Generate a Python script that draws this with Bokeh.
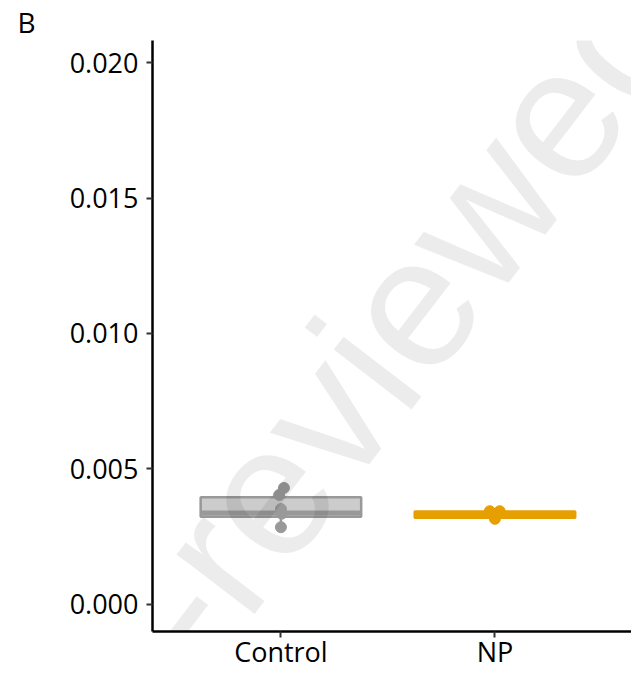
import numpy as np
from bokeh.plotting import figure
from bokeh.models import Range1d, FixedTicker, Label, NumeralTickFormatter, Title
from bokeh.embed import file_html
from bokeh.resources import INLINE

# ---- data ----
groups = ["Control", "NP"]
group_x = [1, 2]
colors = ["#999999", "#E69F00"]
box_q1 = [0.00324, 0.00320]
box_median = [0.00337, 0.003315]
box_q3 = [0.00396, 0.003426]
whisker_low = [0.00285, 0.00316]
whisker_high = [0.00430, 0.00344]

control_values = [0.00430, 0.00404, 0.00352, 0.00335, 0.00285]
control_jitter = [0.014, -0.008, 0.0, 0.004, 0.0]
np_values = [0.00344, 0.00344, 0.00331, 0.00316]
np_jitter = [-0.024, 0.022, 0.0, 0.0]

y_ticks = [0.000, 0.005, 0.010, 0.015, 0.020]
panel_tag = "B"
watermark = "peer-reviewed"

# ---- figure ----
p = figure(width=631, height=673,
           x_range=Range1d(0.4, 2.638), y_range=Range1d(-0.001, 0.020815),
           output_backend="svg", toolbar_location=None,
           min_border_left=152, min_border_top=38,
           min_border_right=0, min_border_bottom=42)
p.outline_line_color = None
p.xgrid.visible = False
p.ygrid.visible = False
p.background_fill_color = "white"
p.border_fill_color = "white"

p.add_layout(Title(text=panel_tag, align="left", offset=-135, standoff=0,
                   text_font="Open Sans", text_font_size="28px",
                   text_font_style="normal", text_color="black"), "above")

for ax in (p.xaxis[0], p.yaxis[0]):
    ax.axis_line_color = "black"
    ax.axis_line_width = 2.5
    ax.major_tick_line_color = "#333333"
    ax.major_tick_line_width = 2
    ax.major_tick_out = 6
    ax.major_tick_in = 0
    ax.minor_tick_line_color = None
    ax.major_label_text_font = "Open Sans"
    ax.major_label_text_font_size = "27px"
    ax.major_label_text_color = "black"

p.xaxis.ticker = FixedTicker(ticks=group_x)
p.xaxis.major_label_overrides = {gx: g for gx, g in zip(group_x, groups)}
p.xaxis.major_label_standoff = -5
p.yaxis.ticker = FixedTicker(ticks=y_ticks)
p.yaxis.formatter = NumeralTickFormatter(format="0.000")
p.yaxis.major_label_standoff = 8

half = 0.375
for gx, c, q1, med, q3, lo, hi in zip(group_x, colors, box_q1, box_median, box_q3,
                                      whisker_low, whisker_high):
    p.segment(x0=[gx, gx], x1=[gx, gx], y0=[q3, q1], y1=[hi, lo],
              line_color=c, line_width=2.5)
    p.quad(left=[gx - half], right=[gx + half], bottom=[q1], top=[q3],
           fill_color=c, fill_alpha=0.5, line_color=c, line_width=2.5)
    p.segment(x0=[gx - half], x1=[gx + half], y0=[med], y1=[med],
              line_color=c, line_width=5)

p.scatter(x=[group_x[0] + j for j in control_jitter], y=control_values,
          size=11, fill_color=colors[0], line_color=colors[0])
p.scatter(x=[group_x[1] + j for j in np_jitter], y=np_values,
          size=11, fill_color=colors[1], line_color=colors[1])

p.add_layout(Label(x=2.718, y=0.022519, text=watermark,
                   angle=52.5, angle_units="deg",
                   text_font="Liberation Sans", text_font_size="186px",
                   text_color="black", text_alpha=0.075,
                   text_align="right", text_baseline="alphabetic"))

open("out.html", "w").write(file_html(p, INLINE))
